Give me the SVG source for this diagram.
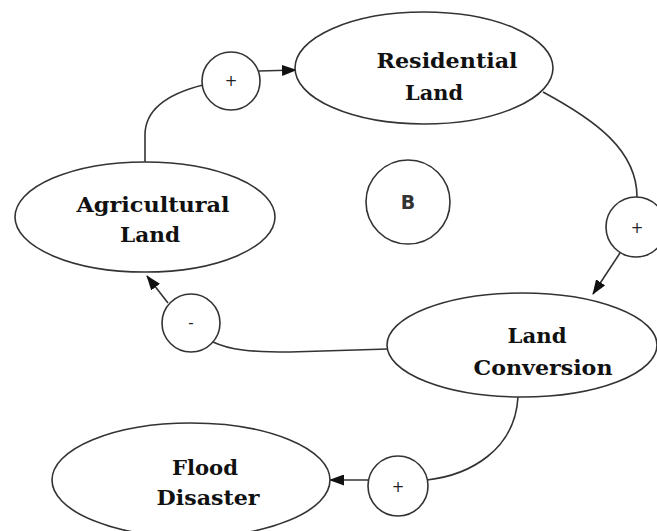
<svg xmlns="http://www.w3.org/2000/svg" width="657" height="531" viewBox="0 0 657 531">
<style>
.node{fill:#fff;stroke:#333;stroke-width:1.6}
.lbl{font-family:"DejaVu Serif","Liberation Serif",serif;font-weight:bold;font-size:20px;fill:#111;text-anchor:middle}
.sign{font-family:"DejaVu Sans","Liberation Sans",sans-serif;font-size:15px;fill:#222;text-anchor:middle}
.edge{fill:none;stroke:#333;stroke-width:1.6}
</style>
<defs>
<marker id="arr" markerUnits="userSpaceOnUse" markerWidth="15" markerHeight="11" refX="14" refY="5.5" orient="auto">
<path d="M0,0 L15,5.5 L0,11 Z" fill="#111"/>
</marker>
</defs>
<rect width="657" height="531" fill="#fff"/>
<g id="connectors">
<path class="edge" d="M145,162 L145,135 C145,105 175,92 203,85"/>
<path class="edge" d="M259,71 L296,70" marker-end="url(#arr)"/>
<path class="edge" d="M543,92 C595,120 637,150 637,197"/>
<path class="edge" d="M620,253 L593,294" marker-end="url(#arr)"/>
<path class="edge" d="M388,349 L290,352 C250,352 230,350 213,342"/>
<path class="edge" d="M168,303 L147,276" marker-end="url(#arr)"/>
<path class="edge" d="M518,397 C515,450 470,475 427,480"/>
<path class="edge" d="M369,480 L330,480" marker-end="url(#arr)"/>
</g>
<g id="residential">
<ellipse class="node" cx="424" cy="68" rx="129" ry="56"/>
<text class="lbl" x="447" y="68" textLength="141" lengthAdjust="spacingAndGlyphs">Residential</text>
<text class="lbl" x="434" y="100" textLength="58" lengthAdjust="spacingAndGlyphs">Land</text>
</g>
<g id="agricultural">
<ellipse class="node" cx="145" cy="217" rx="130" ry="55"/>
<text class="lbl" x="153" y="212" textLength="153" lengthAdjust="spacingAndGlyphs">Agricultural</text>
<text class="lbl" x="150" y="242" textLength="60" lengthAdjust="spacingAndGlyphs">Land</text>
</g>
<g id="landconversion">
<ellipse class="node" cx="522" cy="345" rx="135" ry="52"/>
<text class="lbl" x="537" y="343" textLength="59" lengthAdjust="spacingAndGlyphs">Land</text>
<text class="lbl" x="543" y="375" textLength="139" lengthAdjust="spacingAndGlyphs">Conversion</text>
</g>
<g id="flood">
<ellipse class="node" cx="191" cy="480" rx="139" ry="57"/>
<text class="lbl" x="205" y="475" textLength="66" lengthAdjust="spacingAndGlyphs">Flood</text>
<text class="lbl" x="208" y="505" textLength="103" lengthAdjust="spacingAndGlyphs">Disaster</text>
</g>
<g id="plus1">
<circle class="node" cx="231" cy="81" r="29"/>
<text class="sign" x="231" y="86">+</text>
</g>
<g id="plus2">
<circle class="node" cx="636" cy="227" r="30"/>
<text class="sign" x="637" y="233">+</text>
</g>
<g id="minus">
<circle class="node" cx="191" cy="323" r="29"/>
<text class="sign" x="191" y="328">-</text>
</g>
<g id="plus3">
<circle class="node" cx="398" cy="486" r="30"/>
<text class="sign" x="398" y="492">+</text>
</g>
<g id="loop">
<circle class="node" cx="408" cy="202" r="42"/>
<text class="sign" x="408" y="209" style="font-size:19px;font-weight:bold;fill:#333">B</text>
</g>
</svg>
